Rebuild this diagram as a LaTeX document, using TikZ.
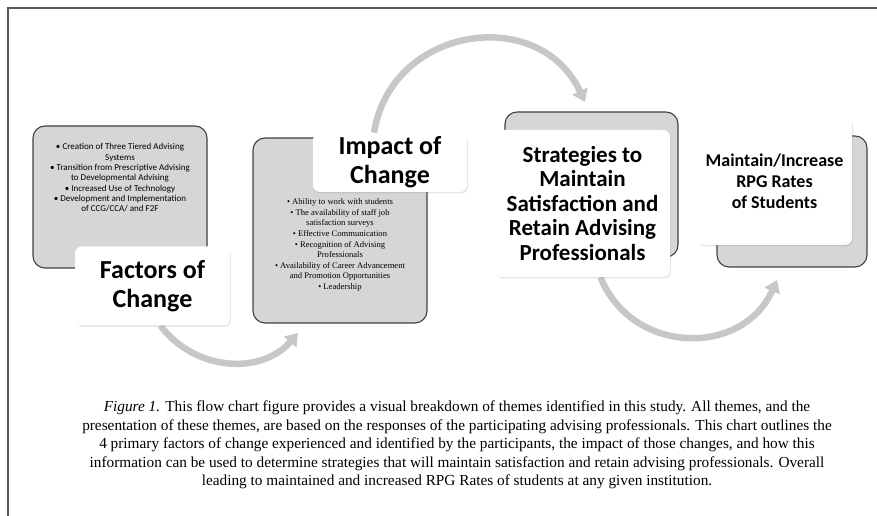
\documentclass[tikz,border=0pt]{standalone}
\usepackage{fontspec}
\setmainfont{Liberation Serif}
\newfontfamily\calibri{Carlito}
\usetikzlibrary{positioning,arrows.meta,shadows,backgrounds}

\begin{document}
\begin{tikzpicture}[x=1pt,y=1pt,
        panel/.style={draw=black!75, line width=1.1pt, fill=black!16, rounded corners=12pt},
        titlebox/.style={fill=white, rounded corners=7pt, align=center, inner sep=0pt,
          drop shadow={opacity=0.2, shadow xshift=1pt, shadow yshift=-1.5pt}},
        bigtitle/.style={titlebox, font=\calibri\bfseries\fontsize{26}{29}\selectfont},
        bullets/.style={align=center, inner sep=0pt},
        flow/.style={draw=black!22, line width=6.5pt, -{Triangle[length=12pt,width=16pt]}},
        frame/.style={draw=black!65, line width=1.5pt}]
  \useasboundingbox (0,0) rectangle (877,516);
  \coordinate (topleft) at (8,508);
  \coordinate (topright) at (877,508);
  \coordinate (bottomleft) at (8,0);
  \draw[frame] (topright) -- (topleft) -- (bottomleft);

  \node[panel, minimum width=174pt, minimum height=142pt] (factlist) at (120,319) {};
  \node[bullets, font=\calibri\fontsize{9}{10.3}\selectfont, below=18pt of factlist.north] (factitems)
    {• Creation of Three Tiered Advising\\ Systems\\ • Transition from Prescriptive Advising\\
     to Developmental Advising\\ • Increased Use of Technology\\ • Development and Implementation\\
     of CCG/CCA/ and F2F};
  \node[bigtitle, minimum width=155pt, minimum height=79pt] (factors) at (152.5,230) {Factors of\\ Change};

  \node[panel, minimum width=174pt, minimum height=185pt] (impactlist) at (340,285.5) {};
  \node[bigtitle, minimum width=154pt, minimum height=59pt] (impact) at (390,353.5) {Impact of\\ Change};
  \node[bullets, font=\fontsize{8.6}{10.6}\selectfont, below=61pt of impactlist.north] (impactitems)
    {• Ability to work with students\\ • The availability of staff job\\ satisfaction surveys\\
     • Effective Communication\\ • Recognition of Advising\\ Professionals\\
     • Availability of Career Advancement\\ and Promotion Opportunities\\ • Leadership};

  \node[panel, minimum width=173pt, minimum height=145pt] (stratback) at (591.5,331.5) {};
  \node[titlebox, minimum width=175pt, minimum height=147pt,
        font=\calibri\bfseries\fontsize{23}{24.5}\selectfont] (strat) at (582.5,312.5)
    {Strategies to\\ Maintain\\ Satisfaction and\\ Retain Advising\\ Professionals};

  \node[panel, minimum width=150pt, minimum height=131pt] (rpgback) at (792,314.5) {};
  \node[titlebox, minimum width=155pt, minimum height=128pt,
        font=\calibri\bfseries\fontsize{18}{21}\selectfont] (rpg) at (774.5,335)
    {Maintain/Increase\\ RPG Rates\\ of Students};

  \coordinate (factorstip) at (298,183);
  \coordinate (impacttip) at (585,414);
  \coordinate (strattip) at (777,236);
  \begin{scope}[on background layer]
    \draw[flow] ([xshift=8pt]factors.south) to[out=-53, in=229, looseness=1.05] (factorstip);
    \draw[flow] ([xshift=-16pt]impact.north) to[out=81, in=115, looseness=1.3] (impacttip);
    \draw[flow] ([xshift=18pt]strat.south) to[out=-68, in=246, looseness=1.22] (strattip);
  \end{scope}

  \node[align=center, font=\fontsize{15.3}{18.5}\selectfont] (caption) at (457,71)
    {\textit{Figure 1.} This flow chart figure provides a visual breakdown of themes identified in this study. All themes, and the\\
     presentation of these themes, are based on the responses of the participating advising professionals. This chart outlines the\\
     4 primary factors of change experienced and identified by the participants, the impact of those changes, and how this\\
     information can be used to determine strategies that will maintain satisfaction and retain advising professionals. Overall\\
     leading to maintained and increased RPG Rates of students at any given institution.};
\end{tikzpicture}
\end{document}
